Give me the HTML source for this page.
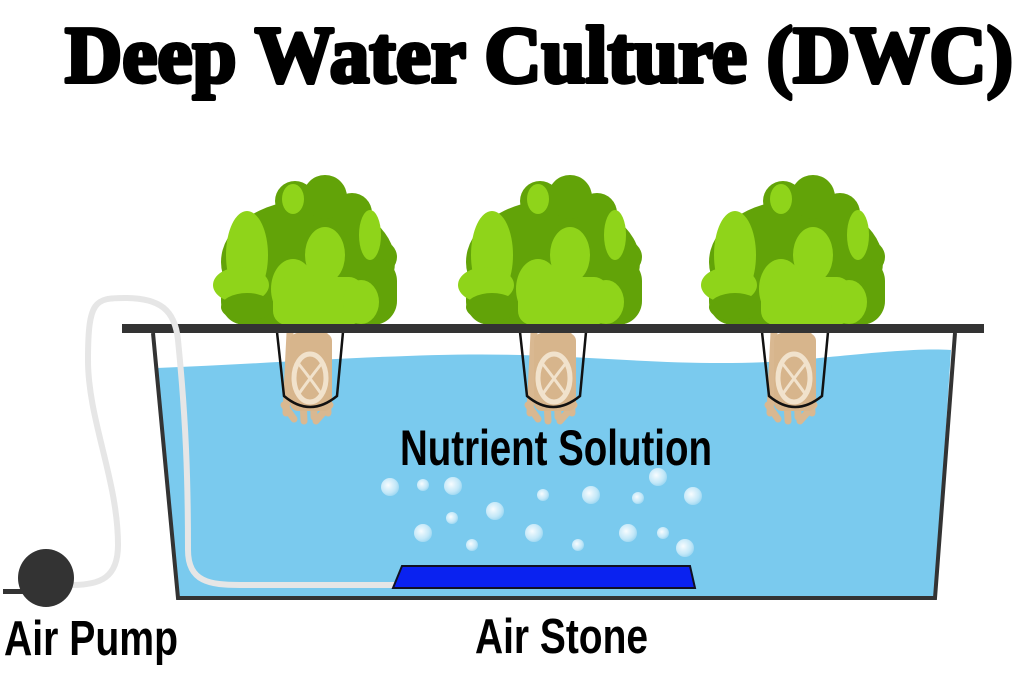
<!DOCTYPE html>
<html><head><meta charset="utf-8"><style>
html,body{margin:0;padding:0;background:#fff;}
svg{display:block;}
</style></head><body>
<svg width="1024" height="683" viewBox="0 0 1024 683" xmlns="http://www.w3.org/2000/svg">
<defs>
<radialGradient id="bub" cx="0.4" cy="0.4" r="0.6">
<stop offset="0" stop-color="#ffffff" stop-opacity="0.95"/>
<stop offset="0.7" stop-color="#d8f0fb" stop-opacity="0.8"/>
<stop offset="1" stop-color="#a8dcf3" stop-opacity="0.9"/>
</radialGradient>
<g id="foliage">
  <ellipse cx="95" cy="85" rx="87" ry="62" fill="#62a308"/>
  <circle cx="82" cy="24" r="20" fill="#62a308"/>
  <circle cx="112" cy="20" r="22" fill="#62a308"/>
  <circle cx="139" cy="36" r="20" fill="#62a308"/>
  <circle cx="168" cy="80" r="16" fill="#62a308"/>
  <rect x="8" y="80" width="176" height="68" rx="24" fill="#62a308"/>
  <ellipse cx="34" cy="78" rx="21" ry="44" fill="#8fd41a"/>
  <ellipse cx="28" cy="108" rx="28" ry="18" fill="#8fd41a"/>
  <ellipse cx="80" cy="22" rx="11" ry="15" fill="#8fd41a"/>
  <ellipse cx="112" cy="78" rx="20" ry="28" fill="#8fd41a"/>
  <ellipse cx="157" cy="58" rx="11" ry="25" fill="#8fd41a"/>
  <ellipse cx="80" cy="112" rx="22" ry="30" fill="#8fd41a"/>
  <rect x="60" y="100" width="90" height="48" rx="14" fill="#8fd41a"/>
  <ellipse cx="148" cy="125" rx="18" ry="22" fill="#8fd41a"/>
  <ellipse cx="34" cy="130" rx="26" ry="14" fill="#62a308"/>
</g>
<g id="roots">
  <path d="M-22 0 L-26 80 M-12 0 L-8 88 M0 0 L2 84 M12 0 L16 80 M-28 72 L-18 86 M18 72 L4 88" stroke="#d9b891" stroke-width="7" fill="none" stroke-linecap="round"/>
  <rect x="-22" y="0" width="42" height="78" rx="8" fill="#d7b58c"/>
  <ellipse cx="-2" cy="45" rx="16" ry="24" fill="none" stroke="#f1e2cc" stroke-width="5"/>
  <path d="M-14 30 Q-2 45 10 62 M10 30 Q-2 45 -14 62" fill="none" stroke="#f1e2cc" stroke-width="3"/>
</g>
</defs>

<text x="65" y="82" font-family="Liberation Serif, serif" font-weight="bold" font-size="80" fill="#000" stroke="#000" stroke-width="4" stroke-linejoin="round" textLength="948" lengthAdjust="spacingAndGlyphs">Deep Water Culture (DWC)</text>

<path d="M157 368 C300 362 420 352 520 355 C620 358 700 368 800 360 C880 352 920 348 951 350 L935 596 L178 596 Z" fill="#7acaee"/>

<use href="#roots" x="312" y="333"/>
<use href="#roots" x="556" y="333"/>
<use href="#roots" x="796" y="333"/>

<use href="#foliage" x="213" y="177"/>
<use href="#foliage" x="458" y="177"/>
<use href="#foliage" x="701" y="177"/>

<g fill="none" stroke="#111" stroke-width="2.5">
<path d="M277 332 L284 396 Q310 418 337 396 L343 332"/>
<path d="M520 332 L527 396 Q553 418 580 396 L586 332"/>
<path d="M762 332 L769 396 Q795 418 822 396 L828 332"/>
</g>

<rect x="122" y="324" width="862" height="9" fill="#333"/>
<path d="M153 333 L178 598 L935 598 L955 333" fill="none" stroke="#333" stroke-width="4"/>

<path d="M72 585 C100 585 118 578 118 545 C118 480 88 420 88 360 C88 300 95 298 125 298 C160 298 175 310 178 340 C186 420 188 480 188 550 C188 582 210 585 240 585 L398 585" fill="none" stroke="#e6e6e6" stroke-width="6"/>

<rect x="3" y="589" width="20" height="5" fill="#333"/>
<ellipse cx="46" cy="578" rx="28" ry="29" fill="#333"/>

<polygon points="402,566 690,566 695,588 393,588" fill="#0a22f0" stroke="#112" stroke-width="2"/>

<g fill="url(#bub)">
<circle cx="390" cy="487" r="9"/><circle cx="423" cy="485" r="6"/><circle cx="453" cy="486" r="9"/>
<circle cx="543" cy="495" r="6"/><circle cx="591" cy="495" r="9"/><circle cx="638" cy="498" r="6"/>
<circle cx="658" cy="477" r="9"/><circle cx="693" cy="496" r="9"/><circle cx="452" cy="518" r="6"/>
<circle cx="495" cy="511" r="9"/><circle cx="423" cy="533" r="9"/><circle cx="472" cy="545" r="6"/>
<circle cx="534" cy="533" r="9"/><circle cx="578" cy="545" r="6"/><circle cx="628" cy="533" r="9"/>
<circle cx="663" cy="533" r="6"/><circle cx="685" cy="548" r="9"/>
</g>

<g font-family="Liberation Sans, sans-serif" font-weight="bold" fill="#000">
<text x="400" y="465" font-size="50" textLength="312" lengthAdjust="spacingAndGlyphs">Nutrient Solution</text>
<text x="4" y="655" font-size="49" textLength="174" lengthAdjust="spacingAndGlyphs">Air Pump</text>
<text x="475" y="653" font-size="49" textLength="173" lengthAdjust="spacingAndGlyphs">Air Stone</text>
</g>
</svg>
</body></html>
